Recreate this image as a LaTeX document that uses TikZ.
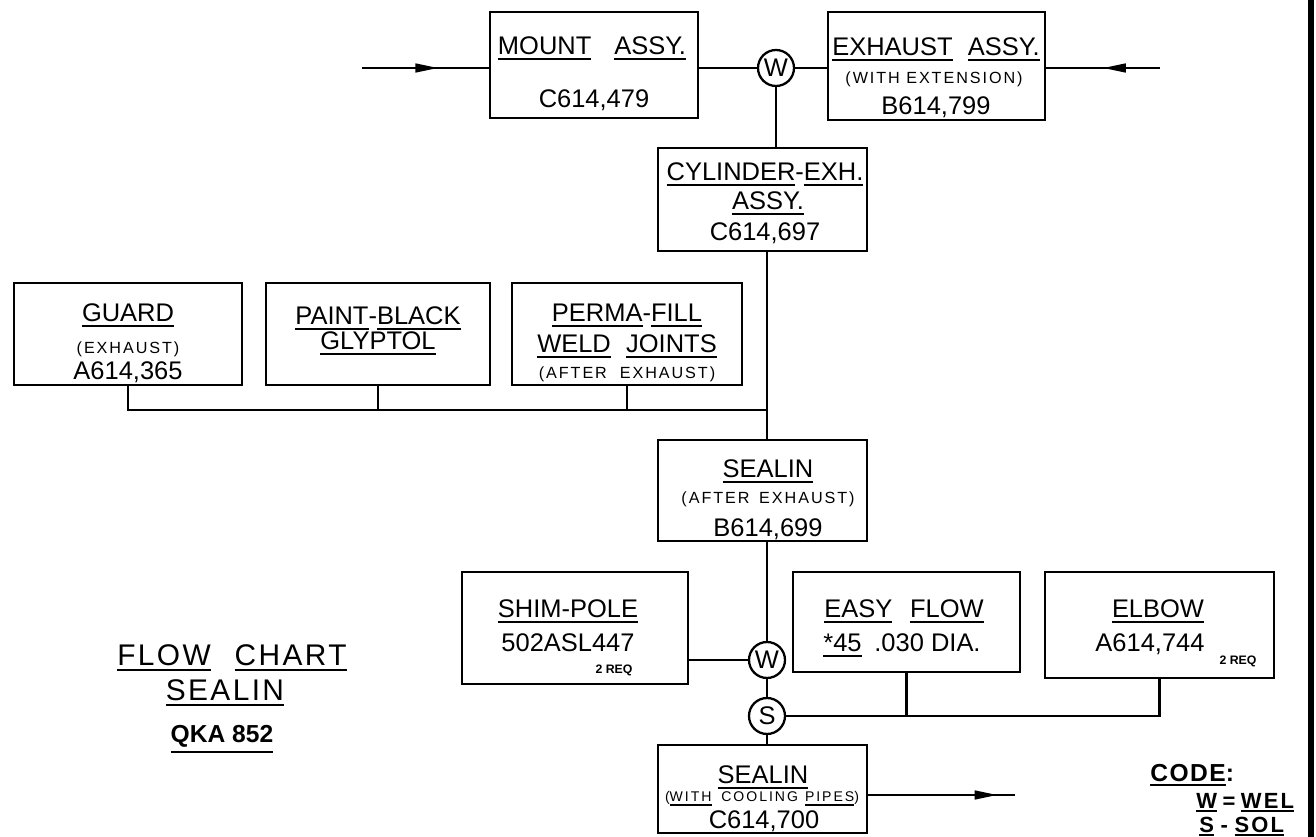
\documentclass[tikz,border=0pt]{standalone}
\usepackage{fontspec}
\setmainfont{Liberation Sans}
\usetikzlibrary{arrows.meta,decorations.markings}
\newcommand\ul[1]{\leavevmode\vtop{\hbox{#1}\kern1.6pt\hrule height 1.1pt}}
\newcommand\ulc[1]{\leavevmode\vtop{\hbox{#1}\kern1.2pt\hrule height 1.2pt}}
\newcommand\bigf{\fontsize{14.5}{14.5}\selectfont}
\newcommand\smf{\fontsize{9.2}{9.2}\selectfont\addfontfeatures{LetterSpace=12}}
\newcommand\reqf{\fontsize{7}{7}\selectfont\bfseries}
\tikzset{
  x=0.02cm, y=-0.02cm,
  boxst/.style={draw, line width=1.3pt, inner sep=0pt},
  lbl/.style={inner sep=0pt, anchor=base, font=\bigf},
  sml/.style={inner sep=0pt, anchor=base, font=\smf},
  req/.style={inner sep=0pt, anchor=base, font=\reqf},
  codef/.style={inner sep=0pt, anchor=base west, font=\fontsize{12.5}{12.5}\selectfont\bfseries\addfontfeatures{LetterSpace=10}},
  joint/.style={draw, circle, line width=1.3pt, minimum size=0.72cm, inner sep=0pt, font=\bigf, fill=white},
  conn/.style={line width=1.3pt},
  midarrow/.style={conn, decoration={markings, mark=at position #1 with {\arrow{Triangle[length=13pt,width=5pt]}}}, postaction={decorate}},
}
\newcommand\mybox[5]{\node[boxst, minimum width={(#4-#2)*0.02cm}, minimum height={(#5-#3)*0.02cm}] (#1) at ({(#2+#4)/2},{(#3+#5)/2}) {};}
\begin{document}
\begin{tikzpicture}
\useasboundingbox (0,0) rectangle (1316,837);
% boxes
\mybox{mount}{490}{12}{698}{118}
\mybox{exh}{828}{12}{1045}{120}
\mybox{cyl}{658}{148}{867}{251}
\mybox{guard}{14}{283}{242}{385}
\mybox{paint}{266}{283}{490}{385}
\mybox{perma}{512}{283}{742}{385}
\mybox{seal}{658}{440}{867}{541}
\mybox{shim}{462}{572}{688}{684}
\mybox{easy}{793}{572}{1020}{672}
\mybox{elbow}{1045}{572}{1274}{678}
\mybox{sealc}{658}{745}{867}{833}
% joints
\node[joint] (wtop) at (776,68) {W};
\node[joint] (wmid) at (767,660) {W};
\node[joint] (smid) at (767,716) {S};
% texts
\node[lbl] (m1) at (592,55) {\ul{MOUNT}\hspace{0.9em}\ul{ASSY.}};
\node[lbl] (m2) at (594,108) {C614,479};
\node[lbl] (e1) at (936,56) {\ul{EXHAUST}\hspace{0.6em}\ul{ASSY.}};
\node[sml] (e2) at (934,84) {(WITH EXTENSION)};
\node[lbl] (e3) at (936,115) {B614,799};
\node[lbl] (c1) at (765,181) {\ul{CYLINDER}-\ul{EXH.}};
\node[lbl] (c2) at (768,210) {\ul{ASSY.}};
\node[lbl] (c3) at (765,241) {C614,697};
\node[lbl] (g1) at (128,322) {\ul{GUARD}};
\node[sml] (g2) at (128,354) {(EXHAUST)};
\node[lbl] (g3) at (128,380) {A614,365};
\node[lbl] (p1) at (378,325) {\ul{PAINT}-\ul{BLACK}};
\node[lbl] (p2) at (378,350) {\ul{GLYPTOL}};
\node[lbl] (f1) at (627,322) {\ul{PERMA}-\ul{FILL}};
\node[lbl] (f2) at (627,353) {\ul{WELD}\hspace{0.6em}\ul{JOINTS}};
\node[sml] (f3) at (627,379) {(AFTER\hspace{0.8em}EXHAUST)};
\node[lbl] (s1) at (768,478) {\ul{SEALIN}};
\node[sml] (s2) at (768,504) {(AFTER\hspace{0.6em}EXHAUST)};
\node[lbl] (s3) at (768,537) {B614,699};
\node[lbl] (h1) at (568,618) {\ul{SHIM-POLE}};
\node[lbl] (h2) at (568,652) {502ASL447};
\node[req] (h3) at (614,674) {2 REQ};
\node[lbl] (y1) at (904,618) {\ul{EASY}\hspace{0.7em}\ul{FLOW}};
\node[lbl] (y2) at (902,652) {\ul{*45}\hspace{0.5em}.030 DIA.};
\node[lbl] (b1) at (1158,618) {\ul{ELBOW}};
\node[lbl] (b2) at (1150,652) {A614,744};
\node[req] (b3) at (1238,665) {2 REQ};
\node[lbl] (t1) at (763,784) {\ul{SEALIN}};
\node[sml,font=\fontsize{8}{8}\selectfont\addfontfeatures{LetterSpace=14}] (t2) at (762,802) {(\ulc{WITH}\hspace{0.7em}COOLING\hspace{0.5em}\ulc{PIPES})};
\node[lbl] (t3) at (764,828) {C614,700};
% title
\node[lbl, font=\fontsize{17}{17}\selectfont\addfontfeatures{LetterSpace=8}] (ft1) at (232,666) {\ul{FLOW}\hspace{0.8em}\ul{CHART}};
\node[lbl, font=\fontsize{17}{17}\selectfont\addfontfeatures{LetterSpace=8}] (ft2) at (225,701) {\ul{SEALIN}};
\node[lbl, font=\fontsize{14}{14}\selectfont\bfseries] (ft3) at (222,743) {\ul{QKA 852}};
% code
\node[lbl, font=\fontsize{14}{14}\selectfont\bfseries\addfontfeatures{LetterSpace=6}, anchor=base west] (cd0) at (1150,782) {\ulc{CODE}:};
\node[codef] (cd1) at (1196,808) {\ulc{W}\hspace{0.25em}=\hspace{0.25em}\ulc{WEL}};
\node[codef] (cd2) at (1199,832) {\ulc{S}\hspace{0.3em}-\hspace{0.3em}\ulc{SOL}};
% right border
\fill[white] (1311,0) rectangle (1316,837);
\draw[line width=3pt] (1311,0) coordinate (bt) -- (1311,837) coordinate (bb);
% connectors
\coordinate (inL) at (362,68);
\coordinate (inR) at (1160,68);
\coordinate (outR) at (1015,795);
\coordinate (bus) at (767,410);
\draw[midarrow=0.6] (inL) -- (mount.west |- inL);
\draw[midarrow=0.5] (inR) -- (exh.east |- inR);
\draw[conn] (mount.east |- wtop) -- (wtop.west);
\draw[conn] (wtop.east) -- (exh.west |- wtop);
\draw[conn] (wtop.south) -- (wtop.south |- cyl.north);
\draw[conn] (cyl.south -| bus) -- (seal.north -| bus);
\draw[conn] (guard.south) |- (bus);
\draw[conn] (paint.south) -- (paint.south |- bus);
\draw[conn] (perma.south) -- (perma.south |- bus);
\draw[conn] (seal.south -| wmid) -- (wmid.north);
\draw[conn] (wmid.south) -- (smid.north);
\draw[conn] (smid.south) -- (smid.south |- sealc.north);
\draw[conn] (shim.east |- wmid) -- (wmid.west);
\draw[conn] (elbow.south) |- (smid.east);
\draw[conn] (easy.south) -- (easy.south |- smid);
\draw[midarrow=0.88] (sealc.east |- outR) -- (outR);
\end{tikzpicture}
\end{document}
